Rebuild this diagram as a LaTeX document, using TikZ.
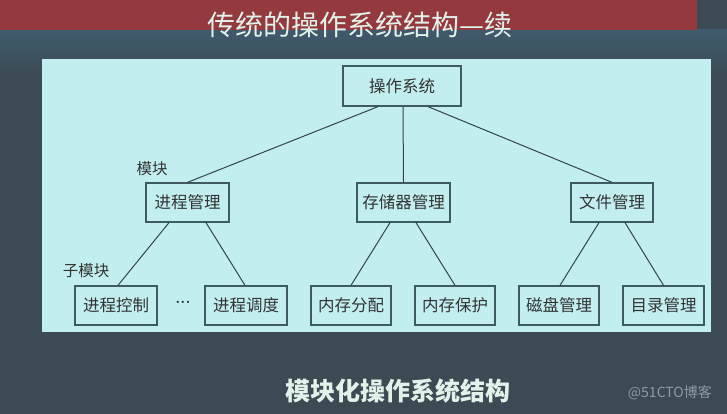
\documentclass[tikz,border=0pt]{standalone}
\usepackage{fontspec}
\newfontfamily\cjk{Noto Sans CJK SC}
\definecolor{bgdark}{HTML}{3C4A53}
\definecolor{bgblue}{HTML}{3F5A6C}
\definecolor{bandred}{HTML}{943A3E}
\definecolor{panel}{HTML}{C2EEF0}
\definecolor{boxline}{HTML}{3E5A62}
\definecolor{wire}{HTML}{34444A}
\definecolor{titlec}{HTML}{E2F2EA}
\definecolor{wmark}{HTML}{8C9CA2}
\tikzset{
  box/.style={draw=boxline, line width=1.3pt, fill=panel, minimum height=39pt,
    inner sep=0pt, font=\cjk\fontsize{16.5}{18}\selectfont, text=black!80},
  wire/.style={draw=wire, line width=1pt},
  lbl/.style={font=\cjk\fontsize{15.5}{17}\selectfont, text=black!80, inner sep=0pt}
}
\begin{document}
\begin{tikzpicture}[x=1pt,y=-1pt]
\useasboundingbox (0,0) rectangle (727,414);
% background
\fill[bgdark] (0,0) rectangle (727,414);
\shade[top color=bgblue, bottom color=bgdark] (0,30) rectangle (727,80);
\fill[bandred] (0,0) rectangle (697,30);
\fill[panel] (42,59) rectangle (711,332);
% title
\node[font=\cjk\fontsize{28}{30}\selectfont, text=titlec, inner sep=0pt] (title) at (360,25) {传统的操作系统结构—续};
% boxes
\node[box, minimum width=118pt, minimum height=40pt] (os) at (402,86) {操作系统};
\node[box, minimum width=83pt] (pm) at (187.5,202.5) {进程管理};
\node[box, minimum width=93pt] (sm) at (403.5,202.5) {存储器管理};
\node[box, minimum width=82pt] (fm) at (612,202.5) {文件管理};
\node[box, minimum width=82pt] (pc) at (116,305.5) {进程控制};
\node[box, minimum width=82pt] (ps) at (246,305.5) {进程调度};
\node[box, minimum width=80pt] (ma) at (351,305.5) {内存分配};
\node[box, minimum width=80pt] (mp) at (455,305.5) {内存保护};
\node[box, minimum width=80pt] (dm) at (559,305.5) {磁盘管理};
\node[box, minimum width=81pt] (dir) at (663.5,305.5) {目录管理};
% labels
\node[lbl] (mk) at (152,169) {模块};
\node[lbl] (smk) at (86,271) {子模块};
\node[font=\fontsize{16}{18}\bfseries\selectfont, text=black!80, inner sep=0pt] (dots) at (183,302) {...};
% connectors
\draw[wire] ([xshift=-24]os.south) -- (pm.north);
\draw[wire] ([xshift=1]os.south) -- (sm.north);
\draw[wire] ([xshift=26]os.south) -- (fm.north);
\draw[wire] ([xshift=-18.5]pm.south) -- ([xshift=2]pc.north);
\draw[wire] ([xshift=18.5]pm.south) -- ([xshift=-1]ps.north);
\draw[wire] ([xshift=-13.5]sm.south) -- (ma.north);
\draw[wire] ([xshift=12.5]sm.south) -- (mp.north);
\draw[wire] ([xshift=-13]fm.south) -- ([xshift=1]dm.north);
\draw[wire] ([xshift=13]fm.south) -- (dir.north);
% bottom caption
\node[font=\cjk\bfseries\fontsize{25}{27}\selectfont, text=titlec, inner sep=0pt] (cap) at (397.5,391) {模块化操作系统结构};
\node[font=\cjk\fontsize{14}{16}\selectfont, text=wmark, inner sep=0pt, anchor=east] (wm) at (712,393) {@51CTO博客};
\end{tikzpicture}
\end{document}
